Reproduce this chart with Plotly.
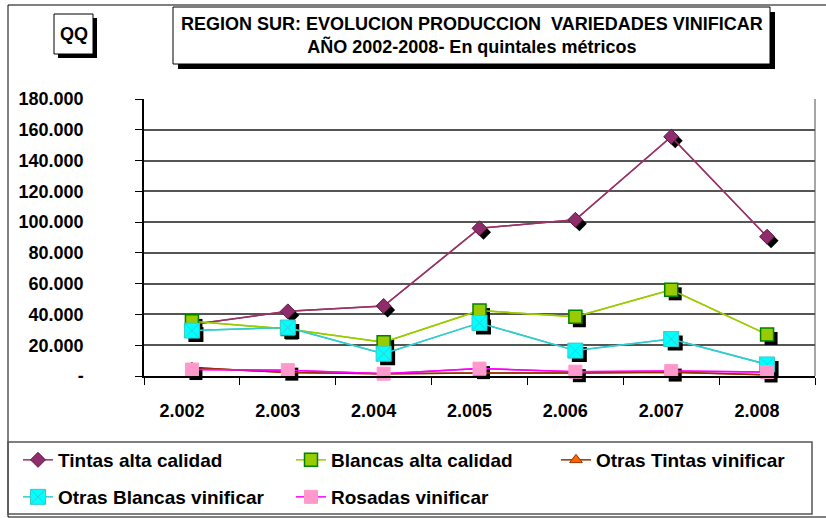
import plotly.graph_objects as go

# data
years = ["2.002", "2.003", "2.004", "2.005", "2.006", "2.007", "2.008"]
tintas = [33500, 42000, 45500, 96000, 101500, 155500, 90500]
blancas = [35500, 30500, 22000, 42500, 38500, 56000, 27000]
otras_tintas = [5500, 2200, 1500, 2000, 2000, 2500, 700]
otras_blancas = [29500, 31500, 14500, 34500, 16500, 24000, 7500]
rosadas = [4200, 3800, 1500, 4800, 2800, 3200, 2600]

y_ticks = [0, 20000, 40000, 60000, 80000, 100000, 120000, 140000, 160000, 180000]
y_labels = ["-", "20.000", "40.000", "60.000", "80.000", "100.000",
            "120.000", "140.000", "160.000", "180.000"]

FONT = "Liberation Sans, Arial, sans-serif"
W, H = 826, 518
L, R, T, B = 144, 11, 99, 142
pw, ph = W - L - R, H - T - B
YMAX = 180000

def px(x):
    return (x - L) / pw

def py(y):
    return (H - B - y) / ph

series = [
    dict(name="Tintas alta calidad", y=tintas, line="#993366",
         marker=dict(symbol="diamond", size=11.5, color="#8E2C6C",
                     line=dict(color="#5E1A45", width=1)), legend="legend"),
    dict(name="Blancas alta calidad", y=blancas, line="#99CC00",
         marker=dict(symbol="square", size=13, color="#99CC00",
                     line=dict(color="#008000", width=1.5)), legend="legend"),
    dict(name="Otras Tintas vinificar", y=otras_tintas, line="#993300",
         marker=dict(symbol="triangle-up", size=11, color="#FF6600",
                     line=dict(color="#993300", width=1)), legend="legend3"),
    dict(name="Otras Blancas vinificar", y=otras_blancas, line="#33CCCC",
         marker=dict(symbol="square-x", size=15, color="#00FFFF",
                     line=dict(color="#33CCCC", width=1)), legend="legend2"),
    dict(name="Rosadas vinificar", y=rosadas, line="#FF00FF",
         marker=dict(symbol="square", size=13, color="#FF99CC",
                     line=dict(color="#FF99CC", width=1)), legend="legend2"),
]

fig = go.Figure()

# base subplot carries grid and axes; lines sit here under the shadows
for s in series:
    fig.add_trace(go.Scatter(
        x=years, y=s["y"], mode="lines", line=dict(color=s["line"], width=1.5),
        showlegend=False, hoverinfo="skip"))

# drop shadows of the markers (shifted overlay axes)
for s in series:
    fig.add_trace(go.Scatter(
        x=years, y=s["y"], mode="markers", xaxis="x2", yaxis="y2",
        marker=dict(symbol=s["marker"]["symbol"], size=s["marker"]["size"],
                    color="black", line=dict(width=0)),
        showlegend=False, hoverinfo="skip", cliponaxis=False))

for s in series:
    fig.add_trace(go.Scatter(
        x=years, y=s["y"], name=s["name"], mode="lines+markers",
        xaxis="x3", yaxis="y3", line=dict(color=s["line"], width=1.5),
        marker=s["marker"], legend=s["legend"], cliponaxis=False))

shift = 4
dx = shift * len(years) / pw
dy = shift * YMAX / ph
xr = [-0.5, len(years) - 0.5]

shapes = [
    # outer frame
    dict(type="rect", x0=px(8), x1=px(830), y0=py(5), y1=py(517),
         line=dict(color="black", width=1)),
    # QQ box + shadow
    dict(type="rect", x0=px(58), x1=px(97), y0=py(18), y1=py(58),
         fillcolor="black", line=dict(width=0)),
    dict(type="rect", x0=px(54), x1=px(93), y0=py(14), y1=py(54),
         fillcolor="white", line=dict(color="black", width=1)),
    # title box + shadow
    dict(type="rect", x0=px(178), x1=px(775), y0=py(12), y1=py(69),
         fillcolor="black", line=dict(width=0)),
    dict(type="rect", x0=px(173), x1=px(770), y0=py(7), y1=py(64),
         fillcolor="white", line=dict(color="black", width=1)),
    # legend box
    dict(type="rect", x0=px(8), x1=px(812), y0=py(442), y1=py(514),
         line=dict(color="#555555", width=1.5)),
    # right border of plot area
    dict(type="line", x0=1, x1=1, y0=0, y1=1, xref="paper", yref="paper",
         line=dict(color="#888888", width=1.5)),
]
for sh in shapes:
    sh.setdefault("xref", "paper")
    sh.setdefault("yref", "paper")
    sh["layer"] = "above" if sh.get("fillcolor") else "below"

legend_style = dict(orientation="h", xref="container", yref="container",
                    xanchor="left", yanchor="top", entrywidth=228,
                    entrywidthmode="pixels", bgcolor="rgba(0,0,0,0)",
                    borderwidth=0,
                    font=dict(family=FONT, size=19, color="black", weight="bold"))

fig.update_layout(
    width=W, height=H,
    margin=dict(l=L, r=R, t=T, b=B, autoexpand=False),
    paper_bgcolor="white", plot_bgcolor="white",
    showlegend=True,
    shapes=shapes,
    legend=dict(legend_style, x=18 / W, y=1 - 441 / H),
    legend3=dict(legend_style, x=556 / W, y=1 - 441 / H),
    legend2=dict(legend_style, x=18 / W, y=1 - 478 / H),
    xaxis=dict(type="category", categoryarray=years, range=xr,
               tickvals=years, ticktext=[y + "\u00a0" * 4 for y in years],
               tickson="boundaries", ticks="outside", ticklen=7,
               tickcolor="black", tickwidth=1, showline=True,
               linecolor="black", linewidth=1.5, showgrid=False,
               ticklabelstandoff=18,
               tickfont=dict(family=FONT, size=18, color="black", weight="bold")),
    yaxis=dict(range=[0, YMAX], tickvals=y_ticks, ticktext=y_labels,
               ticks="outside", ticklen=7, tickcolor="black", showline=True,
               linecolor="black", linewidth=1.5, showgrid=True,
               gridcolor="#555555", gridwidth=1.5, zeroline=False,
               ticklabelstandoff=48,
               tickfont=dict(family=FONT, size=18, color="black", weight="bold")),
    xaxis2=dict(type="category", categoryarray=years, overlaying="x",
                range=[xr[0] - dx, xr[1] - dx], visible=False),
    yaxis2=dict(overlaying="y", range=[dy, YMAX + dy], visible=False),
    xaxis3=dict(type="category", categoryarray=years, overlaying="x",
                range=xr, visible=False),
    yaxis3=dict(overlaying="y", range=[0, YMAX], visible=False),
    annotations=[
        dict(text="<b>QQ</b>", x=px(73.5), y=py(34), xref="paper", yref="paper",
             xanchor="center", yanchor="middle", showarrow=False,
             font=dict(family=FONT, size=18, color="black")),
        dict(text="<b>REGION SUR: EVOLUCION PRODUCCION  VARIEDADES VINIFICAR</b>"
                  "<br><b>AÑO 2002-2008- En quintales métricos</b>",
             x=px(471.5), y=py(35), xref="paper", yref="paper",
             xanchor="center", yanchor="middle", showarrow=False,
             font=dict(family=FONT, size=18, color="black")),
    ],
)

fig.write_html("out.html", config={"displayModeBar": False},
               post_script="document.body.style.margin='0px';")
